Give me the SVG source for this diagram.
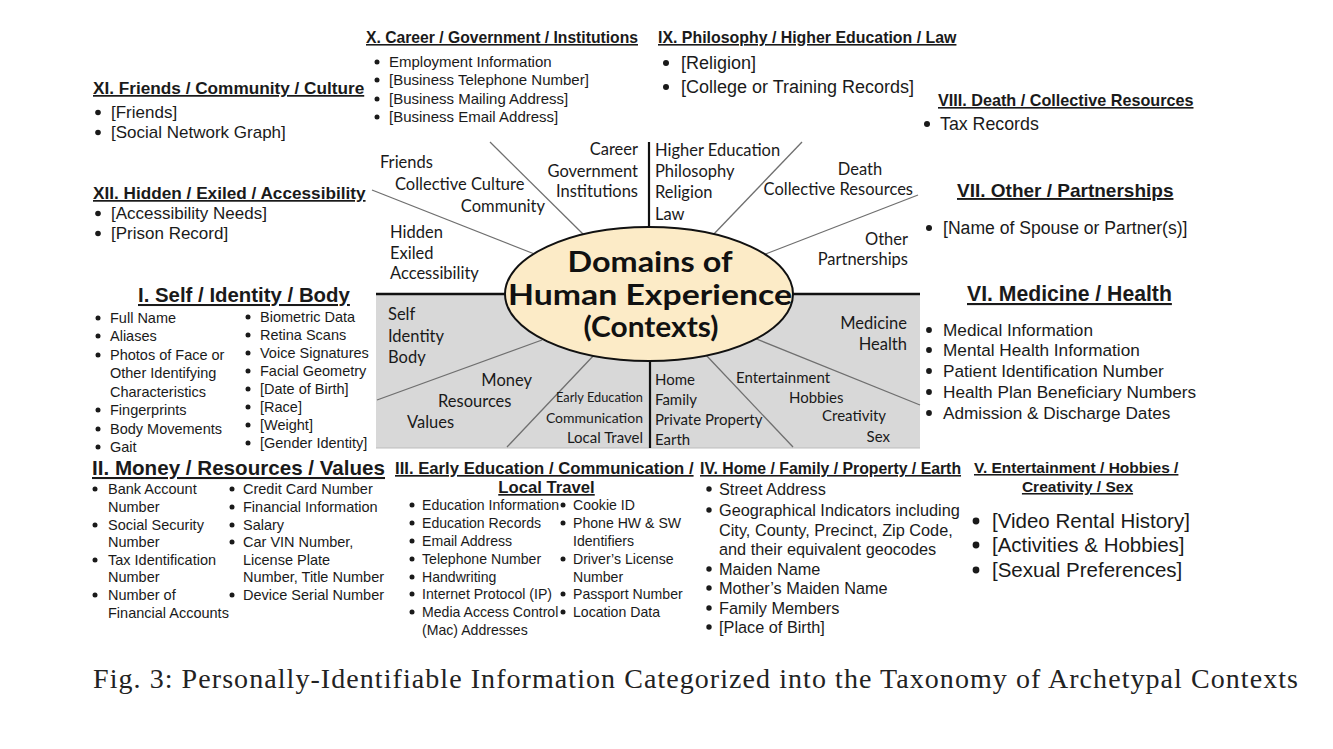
<svg xmlns="http://www.w3.org/2000/svg" width="1333" height="749" viewBox="0 0 1333 749">
<style>
  .h { font-family: "Liberation Sans", Arial, sans-serif; font-weight: bold; fill: #1a1a1a; text-decoration: underline; }
  .t { font-family: "Liberation Sans", Arial, sans-serif; fill: #1a1a1a; }
  .w { font-family: Lato, "Open Sans", sans-serif; fill: #1a1a1a; font-size: 16.5px; }
  .ws { font-family: Lato, "Open Sans", sans-serif; fill: #1a1a1a; font-size: 15px; }
  .title { font-family: Lato, "Open Sans", sans-serif; font-weight: bold; fill: #111; font-size: 28px; }
  .cap { font-family: "Liberation Serif", "Times New Roman", serif; fill: #222; font-size: 28px; }
  .b { fill: #1a1a1a; }
  .spoke { stroke: #6f6f6f; stroke-width: 1.3; fill: none; }
  .div { stroke: #111; stroke-width: 2.2; fill: none; }
</style>
<rect x="0" y="0" width="1333" height="749" fill="#ffffff"/>

<!-- central wheel background -->
<g id="wheel-bg">
  <rect x="376" y="294" width="544" height="154" fill="#d8d8d8"/>
  <line x1="376" y1="448" x2="920" y2="448" stroke="#bdbdbd" stroke-width="1"/>
</g>

<g id="connectors">
  <line class="spoke" x1="490" y1="142" x2="585" y2="236"/>
  <line class="spoke" x1="372" y1="190" x2="537" y2="255"/>
  <line class="spoke" x1="802" y1="142" x2="712" y2="236"/>
  <line class="spoke" x1="918" y1="195" x2="763" y2="255"/>
  <line class="spoke" x1="377" y1="400" x2="542" y2="340"/>
  <line class="spoke" x1="507" y1="447" x2="595" y2="354"/>
  <line class="spoke" x1="793" y1="447" x2="705" y2="354"/>
  <line class="spoke" x1="920" y1="405" x2="754" y2="338"/>
  <line class="div" x1="649" y1="142" x2="649" y2="232"/>
  <line class="div" x1="650" y1="356" x2="650" y2="448"/>
  <line x1="376" y1="294" x2="920" y2="294" stroke="#111" stroke-width="2.6"/>
</g>

<g id="center">
  <ellipse cx="649" cy="294" rx="144" ry="67" fill="#fcebc7" stroke="#111" stroke-width="2"/>
  <text class="title" x="650" y="272" text-anchor="middle" textLength="165" lengthAdjust="spacingAndGlyphs">Domains of</text>
  <text class="title" x="650" y="305" text-anchor="middle" textLength="284" lengthAdjust="spacingAndGlyphs">Human Experience</text>
  <text class="title" x="651" y="337" text-anchor="middle" textLength="135" lengthAdjust="spacingAndGlyphs">(Contexts)</text>
</g>

<g id="wheel-labels">
  <text class="w" x="380" y="168">Friends</text>
  <text class="w" x="395" y="190">Collective Culture</text>
  <text class="w" x="545" y="212" text-anchor="end">Community</text>
  <text class="w" x="638" y="155" text-anchor="end">Career</text>
  <text class="w" x="638" y="177" text-anchor="end">Government</text>
  <text class="w" x="638" y="197" text-anchor="end">Institutions</text>
  <text class="w" x="390" y="238">Hidden</text>
  <text class="w" x="390" y="259">Exiled</text>
  <text class="w" x="390" y="279">Accessibility</text>
  <text class="w" x="655" y="156">Higher Education</text>
  <text class="w" x="655" y="177">Philosophy</text>
  <text class="w" x="655" y="198">Religion</text>
  <text class="w" x="655" y="220">Law</text>
  <text class="w" x="860" y="175" text-anchor="middle">Death</text>
  <text class="w" x="913" y="195" text-anchor="end">Collective Resources</text>
  <text class="w" x="908" y="245" text-anchor="end">Other</text>
  <text class="w" x="908" y="265" text-anchor="end">Partnerships</text>
  <text class="w" x="388" y="320">Self</text>
  <text class="w" x="388" y="342">Identity</text>
  <text class="w" x="388" y="363">Body</text>
  <text class="w" x="532" y="386" text-anchor="end">Money</text>
  <text class="w" x="438" y="407">Resources</text>
  <text class="w" x="407" y="428">Values</text>
  <text class="ws" x="643" y="402" text-anchor="end" style="font-size:12.8px">Early Education</text>
  <text class="ws" x="643" y="423" text-anchor="end" style="font-size:14px">Communication</text>
  <text class="ws" x="643" y="443" text-anchor="end">Local Travel</text>
  <text class="ws" x="655" y="385">Home</text>
  <text class="ws" x="655" y="405">Family</text>
  <text class="ws" x="655" y="425">Private Property</text>
  <text class="ws" x="655" y="445">Earth</text>
  <text class="w" x="907" y="329" text-anchor="end">Medicine</text>
  <text class="w" x="907" y="350" text-anchor="end">Health</text>
  <text class="ws" x="736" y="383">Entertainment</text>
  <text class="ws" x="789" y="403">Hobbies</text>
  <text class="ws" x="822" y="421">Creativity</text>
  <text class="ws" x="890" y="442" text-anchor="end">Sex</text>
</g>

<!-- X -->
<g id="sec-x">
  <text class="h" x="366" y="43" font-size="15.7">X. Career / Government / Institutions</text>
  <g class="t" font-size="15">
    <text x="389" y="67">Employment Information</text>
    <text x="389" y="85">[Business Telephone Number]</text>
    <text x="389" y="104">[Business Mailing Address]</text>
    <text x="389" y="122">[Business Email Address]</text>
  </g>
  <circle class="b" cx="377" cy="62" r="2.5"/><circle class="b" cx="377" cy="80" r="2.5"/>
  <circle class="b" cx="377" cy="99" r="2.5"/><circle class="b" cx="377" cy="117" r="2.5"/>
</g>

<!-- IX -->
<g id="sec-ix">
  <text class="h" x="658" y="43" font-size="15.9">IX. Philosophy / Higher Education / Law</text>
  <g class="t" font-size="18">
    <text x="681" y="69">[Religion]</text>
    <text x="681" y="93">[College or Training Records]</text>
  </g>
  <circle class="b" cx="666" cy="63" r="3"/><circle class="b" cx="666" cy="87" r="3"/>
</g>

<!-- XI -->
<g id="sec-xi">
  <text class="h" x="93" y="94" font-size="17.2">XI. Friends / Community / Culture</text>
  <g class="t" font-size="17">
    <text x="111" y="118">[Friends]</text>
    <text x="111" y="138">[Social Network Graph]</text>
  </g>
  <circle class="b" cx="98" cy="112.5" r="2.8"/><circle class="b" cx="98" cy="132.5" r="2.8"/>
</g>

<!-- XII -->
<g id="sec-xii">
  <text class="h" x="93" y="199" font-size="17.2">XII. Hidden / Exiled / Accessibility</text>
  <g class="t" font-size="17">
    <text x="111" y="219">[Accessibility Needs]</text>
    <text x="111" y="239">[Prison Record]</text>
  </g>
  <circle class="b" cx="98" cy="213.5" r="2.8"/><circle class="b" cx="98" cy="233.5" r="2.8"/>
</g>

<!-- VIII -->
<g id="sec-viii">
  <text class="h" x="938" y="106" font-size="16.2">VIII. Death / Collective Resources</text>
  <text class="t" x="940" y="130" font-size="17.8">Tax Records</text>
  <circle class="b" cx="927" cy="124" r="3"/>
</g>

<!-- VII -->
<g id="sec-vii">
  <text class="h" x="957" y="197" font-size="19">VII. Other / Partnerships</text>
  <text class="t" x="943" y="234" font-size="17.6">[Name of Spouse or Partner(s)]</text>
  <circle class="b" cx="929" cy="228" r="3"/>
</g>

<!-- VI -->
<g id="sec-vi">
  <text class="h" x="967" y="301" font-size="21.2">VI. Medicine / Health</text>
  <g class="t" font-size="17.2">
    <text x="943" y="336">Medical Information</text>
    <text x="943" y="356">Mental Health Information</text>
    <text x="943" y="377">Patient Identification Number</text>
    <text x="943" y="398">Health Plan Beneficiary Numbers</text>
    <text x="943" y="419">Admission &amp; Discharge Dates</text>
  </g>
  <circle class="b" cx="929" cy="330" r="2.9"/><circle class="b" cx="929" cy="350" r="2.9"/>
  <circle class="b" cx="929" cy="371" r="2.9"/><circle class="b" cx="929" cy="392" r="2.9"/>
  <circle class="b" cx="929" cy="413" r="2.9"/>
</g>

<!-- I -->
<g id="sec-i">
  <text class="h" x="138" y="302" font-size="20.4">I. Self / Identity / Body</text>
  <g class="t" font-size="14.5">
    <text x="110" y="323">Full Name</text>
    <text x="110" y="341">Aliases</text>
    <text x="110" y="360">Photos of Face or</text>
    <text x="110" y="378">Other Identifying</text>
    <text x="110" y="397">Characteristics</text>
    <text x="110" y="415">Fingerprints</text>
    <text x="110" y="434">Body Movements</text>
    <text x="110" y="452">Gait</text>
    <text x="260" y="322">Biometric Data</text>
    <text x="260" y="340">Retina Scans</text>
    <text x="260" y="358">Voice Signatures</text>
    <text x="260" y="376">Facial Geometry</text>
    <text x="260" y="394">[Date of Birth]</text>
    <text x="260" y="412">[Race]</text>
    <text x="260" y="430">[Weight]</text>
    <text x="260" y="448">[Gender Identity]</text>
  </g>
  <g class="b">
    <circle cx="98" cy="318" r="2.5"/><circle cx="98" cy="336" r="2.5"/><circle cx="98" cy="355" r="2.5"/>
    <circle cx="98" cy="410" r="2.5"/><circle cx="98" cy="429" r="2.5"/><circle cx="98" cy="447" r="2.5"/>
    <circle cx="248" cy="317" r="2.5"/><circle cx="248" cy="335" r="2.5"/><circle cx="248" cy="353" r="2.5"/>
    <circle cx="248" cy="371" r="2.5"/><circle cx="248" cy="389" r="2.5"/><circle cx="248" cy="407" r="2.5"/>
    <circle cx="248" cy="425" r="2.5"/><circle cx="248" cy="443" r="2.5"/>
  </g>
</g>

<!-- II -->
<g id="sec-ii">
  <text class="h" x="92" y="475" font-size="20.6">II. Money / Resources / Values</text>
  <g class="t" font-size="14.5">
    <text x="108" y="494">Bank Account</text>
    <text x="108" y="512">Number</text>
    <text x="108" y="530">Social Security</text>
    <text x="108" y="547">Number</text>
    <text x="108" y="565">Tax Identification</text>
    <text x="108" y="582">Number</text>
    <text x="108" y="600">Number of</text>
    <text x="108" y="618">Financial Accounts</text>
    <text x="243" y="494">Credit Card Number</text>
    <text x="243" y="512">Financial Information</text>
    <text x="243" y="530">Salary</text>
    <text x="243" y="547">Car VIN Number,</text>
    <text x="243" y="565">License Plate</text>
    <text x="243" y="582">Number, Title Number</text>
    <text x="243" y="600">Device Serial Number</text>
  </g>
  <g class="b">
    <circle cx="95" cy="489" r="2.5"/><circle cx="95" cy="525" r="2.5"/><circle cx="95" cy="560" r="2.5"/>
    <circle cx="95" cy="595" r="2.5"/>
    <circle cx="232" cy="489" r="2.5"/><circle cx="232" cy="507" r="2.5"/><circle cx="232" cy="525" r="2.5"/>
    <circle cx="232" cy="542" r="2.5"/><circle cx="232" cy="595" r="2.5"/>
  </g>
</g>

<!-- III -->
<g id="sec-iii">
  <text class="h" x="395" y="474" font-size="16.7">III. Early Education / Communication /</text>
  <text class="h" x="546.5" y="493" font-size="16.7" text-anchor="middle">Local Travel</text>
  <g class="t" font-size="14.1">
    <text x="422" y="510">Education Information</text>
    <text x="422" y="528">Education Records</text>
    <text x="422" y="546">Email Address</text>
    <text x="422" y="564">Telephone Number</text>
    <text x="422" y="582">Handwriting</text>
    <text x="422" y="599">Internet Protocol (IP)</text>
    <text x="422" y="617">Media Access Control</text>
    <text x="422" y="635">(Mac) Addresses</text>
    <text x="573" y="510">Cookie ID</text>
    <text x="573" y="528">Phone HW &amp; SW</text>
    <text x="573" y="546">Identifiers</text>
    <text x="573" y="564">Driver’s License</text>
    <text x="573" y="582">Number</text>
    <text x="573" y="599">Passport Number</text>
    <text x="573" y="617">Location Data</text>
  </g>
  <g class="b">
    <circle cx="412" cy="505" r="2.5"/><circle cx="412" cy="523" r="2.5"/><circle cx="412" cy="541" r="2.5"/>
    <circle cx="412" cy="559" r="2.5"/><circle cx="412" cy="577" r="2.5"/><circle cx="412" cy="594" r="2.5"/>
    <circle cx="412" cy="612" r="2.5"/>
    <circle cx="563" cy="505" r="2.5"/><circle cx="563" cy="523" r="2.5"/><circle cx="563" cy="559" r="2.5"/>
    <circle cx="563" cy="594" r="2.5"/><circle cx="563" cy="612" r="2.5"/>
  </g>
</g>

<!-- IV -->
<g id="sec-iv">
  <text class="h" x="700" y="474" font-size="15.8">IV. Home / Family / Property / Earth</text>
  <g class="t" font-size="16.3">
    <text x="719" y="495">Street Address</text>
    <text x="719" y="516">Geographical Indicators including</text>
    <text x="719" y="536">City, County, Precinct, Zip Code,</text>
    <text x="719" y="555">and their equivalent geocodes</text>
    <text x="719" y="575">Maiden Name</text>
    <text x="719" y="594">Mother’s Maiden Name</text>
    <text x="719" y="614">Family Members</text>
    <text x="719" y="633">[Place of Birth]</text>
  </g>
  <g class="b">
    <circle cx="709" cy="489" r="2.7"/><circle cx="709" cy="510" r="2.7"/><circle cx="709" cy="569" r="2.7"/>
    <circle cx="709" cy="588" r="2.7"/><circle cx="709" cy="608" r="2.7"/><circle cx="709" cy="627" r="2.7"/>
  </g>
</g>

<!-- V -->
<g id="sec-v">
  <text class="h" x="974" y="473" font-size="15.5">V. Entertainment / Hobbies /</text>
  <text class="h" x="1077.5" y="492" font-size="15.5" text-anchor="middle">Creativity / Sex</text>
  <g class="t" font-size="20.5">
    <text x="992" y="528">[Video Rental History]</text>
    <text x="992" y="552">[Activities &amp; Hobbies]</text>
    <text x="992" y="577">[Sexual Preferences]</text>
  </g>
  <g class="b">
    <circle cx="976" cy="521" r="3.4"/><circle cx="976" cy="545" r="3.4"/><circle cx="976" cy="570" r="3.4"/>
  </g>
</g>

<text class="cap" x="93" y="688" textLength="1205">Fig. 3: Personally-Identifiable Information Categorized into the Taxonomy of Archetypal Contexts</text>
</svg>
